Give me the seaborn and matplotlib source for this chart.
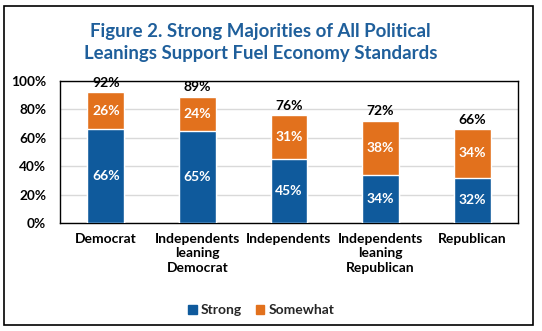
import matplotlib
matplotlib.use("Agg")
import matplotlib.pyplot as plt
from matplotlib.patches import Rectangle, Patch
import seaborn as sns
import pandas as pd

categories = ["Democrat", "Independents\nleaning\nDemocrat", "Independents",
              "Independents\nleaning\nRepublican", "Republican"]
strong = [66, 65, 45, 34, 32]
somewhat = [26, 24, 31, 38, 34]
yticks = [0, 20, 40, 60, 80, 100]

BLUE = "#0F5A9C"
ORANGE = "#E2711D"
TITLE_BLUE = "#1F5F9B"

sns.set_theme(style="white")
plt.rcParams["font.family"] = ["Lato", "DejaVu Sans"]
plt.rcParams["font.weight"] = "bold"

df = pd.DataFrame({"category": categories, "Strong": strong, "Somewhat": somewhat})
df["Total"] = df["Strong"] + df["Somewhat"]

fig = plt.figure(figsize=(5.42, 3.31), dpi=100)
ax = fig.add_axes([0.1107, 0.3263, 0.8450, 0.4290])

# stacked bars: full height in orange, the strong part drawn on top in blue
sns.barplot(data=df, x="category", y="Total", color=ORANGE, width=0.4,
            saturation=1, ax=ax, zorder=3)
sns.barplot(data=df, x="category", y="Strong", color=BLUE, width=0.4,
            saturation=1, ax=ax, zorder=4)

ax.set_ylim(0, 100)
ax.set_yticks(yticks)
ax.set_yticklabels([f"{t}%" for t in yticks])
ax.set_xlim(-0.5, len(categories) - 0.5)
ax.set_xlabel("")
ax.set_ylabel("")
ax.yaxis.grid(True, color="#D9D9D9", linewidth=1, zorder=0)
ax.set_axisbelow(True)
for s in ax.spines.values():
    s.set_visible(True)
    s.set_color("black")
    s.set_linewidth(1)
ax.tick_params(axis="y", length=0, pad=10, labelsize=9.8, labelcolor="black")
ax.tick_params(axis="x", length=0, pad=7, labelsize=10, labelcolor="black")
for lab in ax.get_xticklabels() + ax.get_yticklabels():
    lab.set_fontweight("bold")
    lab.set_linespacing(1.25)

for i, (s, w, t) in enumerate(zip(df["Strong"], df["Somewhat"], df["Total"])):
    ax.text(i, s / 2, f"{s}%", ha="center", va="center", color="white",
            fontsize=10, fontweight="bold", zorder=5)
    ax.text(i, s + w / 2, f"{w}%", ha="center", va="center", color="white",
            fontsize=10, fontweight="bold", zorder=5)
    ax.annotate(f"{t}%", (i, t), xytext=(0, 2.5), textcoords="offset points",
                ha="center", va="bottom", color="black", fontsize=10,
                fontweight="bold", zorder=5)

fig.text(0.481, 0.906, "Figure 2. Strong Majorities of All Political",
         ha="center", va="center", color=TITLE_BLUE, fontsize=13.4, fontweight="bold")
fig.text(0.481, 0.838, "Leanings Support Fuel Economy Standards",
         ha="center", va="center", color=TITLE_BLUE, fontsize=13.4, fontweight="bold")

handles = [Patch(color=BLUE, label="Strong"), Patch(color=ORANGE, label="Somewhat")]
fig.legend(handles=handles, loc="center", bbox_to_anchor=(0.482, 0.062), ncol=2,
           frameon=False, handlelength=0.6, handleheight=0.6,
           handletextpad=0.3, columnspacing=1.0, prop={"weight": "bold", "size": 10})

fig.patches.append(Rectangle((4 / 542, 6 / 331), 529 / 542, 319 / 331,
                             transform=fig.transFigure, fill=False,
                             edgecolor="black", linewidth=1.2))

fig.savefig("out.png", dpi=100, facecolor="white")
